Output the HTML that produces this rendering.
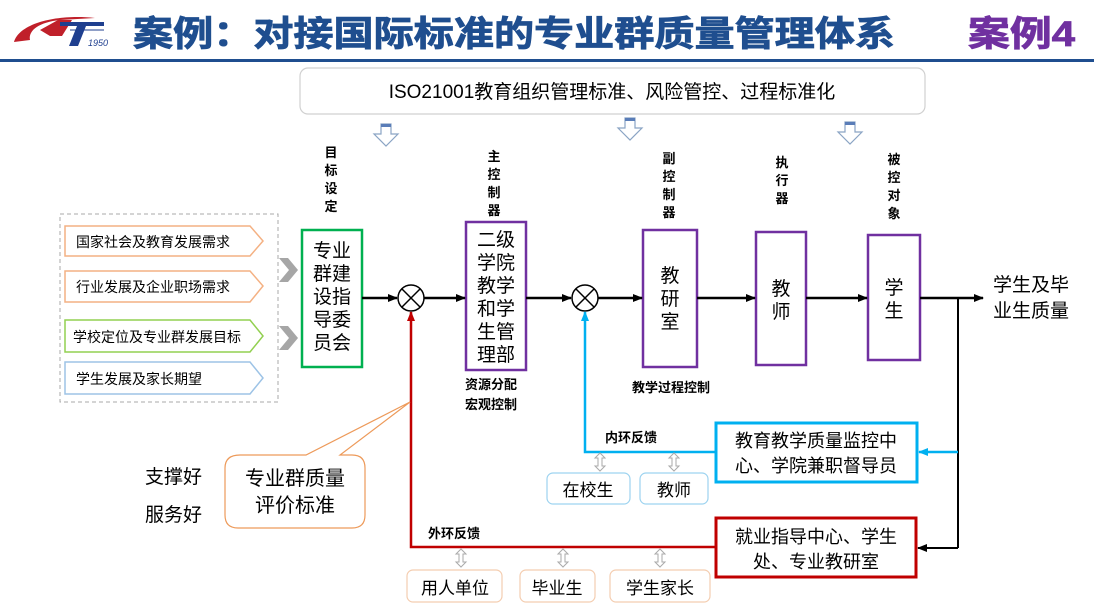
<!DOCTYPE html>
<html><head><meta charset="utf-8"><style>
html,body{margin:0;padding:0;background:#fff;}
svg{display:block;}
text{font-family:"Liberation Sans","Noto Sans CJK SC",sans-serif;}
</style></head><body>
<svg width="1094" height="612" viewBox="0 0 1094 612" xmlns="http://www.w3.org/2000/svg">
<defs>
<marker id="ab" markerWidth="10" markerHeight="8" refX="9" refY="4" orient="auto" markerUnits="userSpaceOnUse"><path d="M0,0 L10,4 L0,8 Z" fill="#000"/></marker>
<marker id="ar" markerWidth="10" markerHeight="8" refX="9" refY="4" orient="auto" markerUnits="userSpaceOnUse"><path d="M0,0 L10,4 L0,8 Z" fill="#c00000"/></marker>
<marker id="ac" markerWidth="10" markerHeight="8" refX="9" refY="4" orient="auto" markerUnits="userSpaceOnUse"><path d="M0,0 L10,4 L0,8 Z" fill="#00b0f0"/></marker>
<g id="down"><path d="M-5,0 h10 v10 h7 l-12,12 l-12,-12 h7 z" fill="#fff" stroke="#8aa4c4" stroke-width="1.2"/><rect x="-5" y="0" width="10" height="3" fill="#5a7db8"/></g>
<g id="dbl"><path d="M0,0 l-5,5 h3 v8 h-3 l5,5 l5,-5 h-3 v-8 h3 z" fill="#fff" stroke="#aaa" stroke-width="1"/></g>
</defs>

<!-- logo -->
<path d="M14,42 C20,22 60,14 95,18 L60,20 C40,22 28,30 30,40 Z" fill="#c0202a"/>
<path d="M40,30 L58,20 L72,20 L62,36 L50,36 Z" fill="#c0202a"/>
<path d="M60,22 h44 v4 h-18 l-8,20 h-9 l8,-20 h-17 z" fill="#1f3f8f"/>
<text x="88" y="46" font-size="9" font-style="italic" fill="#1f3f8f">1950</text>
<line x1="70" y1="30" x2="104" y2="30" stroke="#1f3f8f" stroke-width="1"/>

<text x="133" y="46" font-size="35" font-weight="bold" fill="#1f4e8f" stroke="#1f4e8f" stroke-width="0.8" textLength="762" lengthAdjust="spacingAndGlyphs">案例：对接国际标准的专业群质量管理体系</text>
<text x="968" y="46" font-size="35" font-weight="bold" fill="#7030a0" stroke="#7030a0" stroke-width="0.8" textLength="107" lengthAdjust="spacingAndGlyphs">案例4</text>
<rect x="0" y="59" width="1094" height="3" fill="#1f4e8f"/>

<!-- ISO box -->
<rect x="300" y="68" width="625" height="46" rx="8" fill="#fff" stroke="#d0d0d0" stroke-width="1.2"/>
<text x="612" y="98" font-size="19" text-anchor="middle" fill="#000">ISO21001教育组织管理标准、风险管控、过程标准化</text>
<use href="#down" x="386" y="124"/>
<use href="#down" x="630" y="118"/>
<use href="#down" x="850" y="122"/>

<!-- vertical labels -->
<g font-size="13" font-weight="bold" text-anchor="middle" fill="#000">
<text x="331" y="157">目</text><text x="331" y="175">标</text><text x="331" y="193">设</text><text x="331" y="211">定</text>
<text x="494" y="161">主</text><text x="494" y="179">控</text><text x="494" y="197">制</text><text x="494" y="215">器</text>
<text x="669" y="163">副</text><text x="669" y="181">控</text><text x="669" y="199">制</text><text x="669" y="217">器</text>
<text x="782" y="167">执</text><text x="782" y="185">行</text><text x="782" y="203">器</text>
<text x="894" y="164">被</text><text x="894" y="182">控</text><text x="894" y="200">对</text><text x="894" y="218">象</text>
</g>

<!-- left dashed group -->
<rect x="60" y="214" width="218" height="188" fill="none" stroke="#aaa" stroke-dasharray="4,3" stroke-width="1"/>
<path d="M65,226 H250 L263,241 L250,256 H65 Z" fill="#fff" stroke="#f4b183" stroke-width="1.5"/>
<path d="M65,271 H250 L263,286 L250,302 H65 Z" fill="#fff" stroke="#f4b183" stroke-width="1.5"/>
<path d="M65,320 H250 L263,336 L250,352 H65 Z" fill="#fff" stroke="#92d050" stroke-width="1.5"/>
<path d="M65,362 H250 L263,378 L250,394 H65 Z" fill="#fff" stroke="#9dc3e6" stroke-width="1.5"/>
<g font-size="14" fill="#000">
<text x="76" y="247">国家社会及教育发展需求</text>
<text x="76" y="292">行业发展及企业职场需求</text>
<text x="73" y="342">学校定位及专业群发展目标</text>
<text x="76" y="384">学生发展及家长期望</text>
</g>
<path d="M279,258 h9 l10,12 l-10,12 h-9 l10,-12 z" fill="#a6a6a6"/>
<path d="M279,326 h9 l10,12 l-10,12 h-9 l10,-12 z" fill="#a6a6a6"/>

<!-- main boxes -->
<rect x="302" y="230" width="60" height="137" fill="#fff" stroke="#00b050" stroke-width="2.5"/>
<g font-size="19" text-anchor="middle" fill="#000">
<text x="332" y="257">专业</text><text x="332" y="280">群建</text><text x="332" y="303">设指</text><text x="332" y="326">导委</text><text x="332" y="349">员会</text>
</g>
<rect x="466" y="222" width="60" height="148" fill="#fff" stroke="#7030a0" stroke-width="2.5"/>
<g font-size="19" text-anchor="middle" fill="#000">
<text x="496" y="246">二级</text><text x="496" y="269">学院</text><text x="496" y="292">教学</text><text x="496" y="315">和学</text><text x="496" y="338">生管</text><text x="496" y="361">理部</text>
</g>
<rect x="643" y="230" width="54" height="137" fill="#fff" stroke="#7030a0" stroke-width="2.5"/>
<g font-size="19" text-anchor="middle" fill="#000"><text x="670" y="282">教</text><text x="670" y="305">研</text><text x="670" y="328">室</text></g>
<rect x="756" y="232" width="50" height="133" fill="#fff" stroke="#7030a0" stroke-width="2.5"/>
<g font-size="19" text-anchor="middle" fill="#000"><text x="781" y="295">教</text><text x="781" y="318">师</text></g>
<rect x="868" y="235" width="52" height="125" fill="#fff" stroke="#7030a0" stroke-width="2.5"/>
<g font-size="19" text-anchor="middle" fill="#000"><text x="894" y="294">学</text><text x="894" y="317">生</text></g>

<!-- main line -->
<g stroke="#000" stroke-width="2.5" fill="none">
<line x1="362" y1="298" x2="397" y2="298" marker-end="url(#ab)"/>
<line x1="424" y1="298" x2="465" y2="298" marker-end="url(#ab)"/>
<line x1="526" y1="298" x2="571" y2="298" marker-end="url(#ab)"/>
<line x1="598" y1="298" x2="642" y2="298" marker-end="url(#ab)"/>
<line x1="697" y1="298" x2="755" y2="298" marker-end="url(#ab)"/>
<line x1="806" y1="298" x2="867" y2="298" marker-end="url(#ab)"/>
<line x1="920" y1="298" x2="983" y2="298" marker-end="url(#ab)"/>
</g>
<g stroke="#000" stroke-width="1.5" fill="#fff">
<circle cx="411" cy="298" r="13"/><circle cx="585" cy="298" r="13"/>
</g>
<g stroke="#000" stroke-width="1.5">
<line x1="402" y1="289" x2="420" y2="307"/><line x1="420" y1="289" x2="402" y2="307"/>
<line x1="576" y1="289" x2="594" y2="307"/><line x1="594" y1="289" x2="576" y2="307"/>
</g>
<text x="993" y="291" font-size="19" fill="#000">学生及毕</text>
<text x="993" y="317" font-size="19" fill="#000">业生质量</text>

<g font-size="13" font-weight="bold" fill="#000">
<text x="465" y="389">资源分配</text><text x="465" y="409">宏观控制</text>
<text x="632" y="392">教学过程控制</text>
<text x="605" y="442">内环反馈</text>
<text x="428" y="538">外环反馈</text>
</g>

<!-- feedback -->
<line x1="958" y1="298" x2="958" y2="548" stroke="#000" stroke-width="2"/>
<line x1="958" y1="452" x2="919" y2="452" stroke="#00b0f0" stroke-width="2.5" marker-end="url(#ac)"/>
<line x1="958" y1="548" x2="918" y2="548" stroke="#000" stroke-width="2" marker-end="url(#ab)"/>
<polyline points="716,452 585,452 585,312" fill="none" stroke="#00b0f0" stroke-width="2.5" marker-end="url(#ac)"/>
<polyline points="716,547 411,547 411,312" fill="none" stroke="#c00000" stroke-width="2.5" marker-end="url(#ar)"/>

<rect x="716" y="423" width="201" height="59" fill="#fff" stroke="#00b0f0" stroke-width="3"/>
<text x="816" y="447" font-size="18" text-anchor="middle" fill="#000">教育教学质量监控中</text>
<text x="816" y="472" font-size="18" text-anchor="middle" fill="#000">心、学院兼职督导员</text>
<rect x="716" y="518" width="200" height="59" fill="#fff" stroke="#c00000" stroke-width="3"/>
<text x="816" y="543" font-size="18" text-anchor="middle" fill="#000">就业指导中心、学生</text>
<text x="816" y="568" font-size="18" text-anchor="middle" fill="#000">处、专业教研室</text>

<use href="#dbl" x="600" y="453"/><use href="#dbl" x="674" y="453"/>
<rect x="547" y="473" width="83" height="31" rx="6" fill="#fff" stroke="#9dd3f0" stroke-width="1.2"/>
<rect x="640" y="473" width="68" height="31" rx="6" fill="#fff" stroke="#9dd3f0" stroke-width="1.2"/>
<text x="588" y="496" font-size="17" text-anchor="middle">在校生</text>
<text x="674" y="496" font-size="17" text-anchor="middle">教师</text>

<use href="#dbl" x="461" y="549"/><use href="#dbl" x="563" y="549"/><use href="#dbl" x="660" y="549"/>
<rect x="407" y="570" width="95" height="32" rx="6" fill="#fff" stroke="#f4cdb0" stroke-width="1.2"/>
<rect x="520" y="570" width="75" height="32" rx="6" fill="#fff" stroke="#f4cdb0" stroke-width="1.2"/>
<rect x="610" y="570" width="100" height="32" rx="6" fill="#fff" stroke="#f4cdb0" stroke-width="1.2"/>
<text x="455" y="594" font-size="17" text-anchor="middle">用人单位</text>
<text x="557" y="594" font-size="17" text-anchor="middle">毕业生</text>
<text x="660" y="594" font-size="17" text-anchor="middle">学生家长</text>

<!-- callout -->
<path d="M240,455 H306 L410,402 L340,455 H352 Q365,455 365,468 V515 Q365,528 352,528 H238 Q225,528 225,515 V468 Q225,455 240,455 Z" fill="#fff" stroke="#ed9a5a" stroke-width="1.2"/>
<text x="295" y="485" font-size="20" text-anchor="middle">专业群质量</text>
<text x="295" y="512" font-size="20" text-anchor="middle">评价标准</text>
<text x="145" y="483" font-size="19">支撑好</text>
<text x="145" y="521" font-size="19">服务好</text>
</svg>
</body></html>
